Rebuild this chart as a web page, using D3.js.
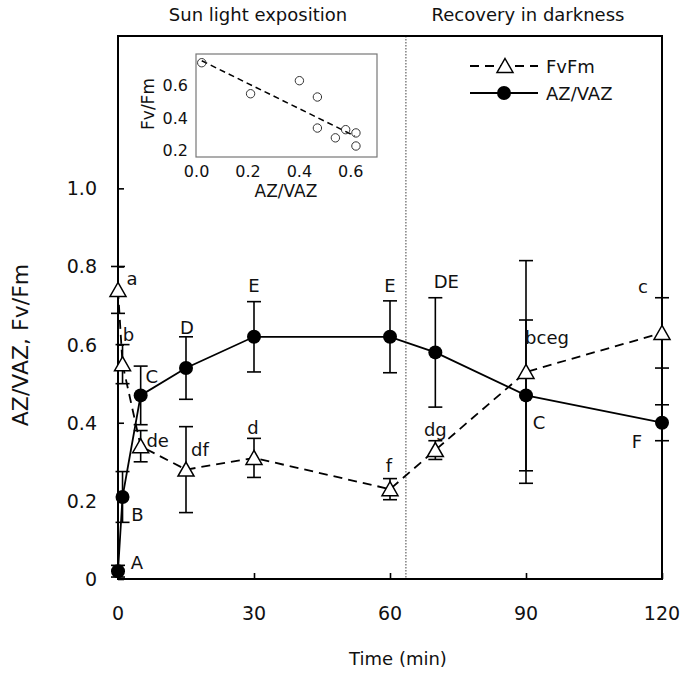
<!DOCTYPE html>
<html><head><meta charset="utf-8">
<script src="https://cdn.jsdelivr.net/npm/d3@7"></script>
<style>body{margin:0;background:#fff}svg{display:block}</style>
</head><body><svg id="c" width="685" height="674"></svg>
<script>
// ---------------- data ----------------
const times = [0, 1, 5, 15, 30, 60, 70, 90, 120];
const fvfm = [0.74, 0.55, 0.34, 0.28, 0.31, 0.23, 0.33, 0.53, 0.63];
const fvfmErr = [0.06, 0.05, 0.04, 0.11, 0.05, 0.027, 0.024, 0.285, 0.09];
const fvfmLetters = ["a", "b", "de", "df", "d", "f", "dg", "bceg", "c"];
const azvaz = [0.02, 0.21, 0.47, 0.54, 0.62, 0.62, 0.58, 0.47, 0.40];
const azvazErr = [0.015, 0.065, 0.075, 0.08, 0.09, 0.092, 0.14, 0.193, 0.046];
const azvazLetters = ["A", "B", "C", "D", "E", "E", "DE", "C", "F"];
const xTicks = [0, 30, 60, 90, 120];
const yTicks = [0, 0.2, 0.4, 0.6, 0.8, 1.0];
const yTickLabels = ["0", "0.2", "0.4", "0.6", "0.8", "1.0"];
const phaseBoundary = 63.5;
const phaseTitles = ["Sun light exposition", "Recovery in darkness"];
const seriesNames = ["FvFm", "AZ/VAZ"];
// inset
const insetAZ = [0.02, 0.21, 0.40, 0.47, 0.47, 0.54, 0.58, 0.62, 0.62];
const insetFv = [0.74, 0.55, 0.63, 0.53, 0.34, 0.28, 0.33, 0.31, 0.23];
const insetTrendAZ = [0.02, 0.616];
const insetTrendFv = [0.752, 0.291];
const insetXTicks = [0, 0.2, 0.4, 0.6];
const insetXTickLabels = ["0.0", "0.2", "0.4", "0.6"];
const insetYTicks = [0.2, 0.4, 0.6];
const insetYTickLabels = ["0.2", "0.4", "0.6"];

// ---------------- layout ----------------
const FONT = "'DejaVu Sans', Verdana, sans-serif";
const L = 118, R = 662, T = 36, B = 579;
const fvOff = [[14,-11],[6,-30],[17,-6],[14,-20],[-1,-30],[-1,-24],[0,-21],[21,-34],[-19,-46]];
const azOff = [[19,-9],[15,18],[11,-19],[1,-41],[0,-51],[0,-51],[11,-71],[13,27],[-25,19]];

const svg = d3.select("#c");
const x = d3.scaleLinear().domain([0, 120]).range([L, R]);
const y = d3.scaleLinear().domain([0, 1.39]).range([B, T]);

// dotted phase separator
svg.append("line")
  .attr("x1", x(phaseBoundary)).attr("x2", x(phaseBoundary))
  .attr("y1", T).attr("y2", B)
  .attr("stroke", "#888").attr("stroke-width", 1.6).attr("stroke-dasharray", "1.5,1.5");

// axes (ticks inward)
const xAxis = d3.axisTop(x).tickValues(xTicks).tickSize(6).tickFormat("");
svg.append("g").attr("transform", `translate(0,${B})`).call(xAxis)
  .call(g => { g.select(".domain").remove(); g.selectAll("line").attr("stroke", "#000").attr("stroke-width", 1.6); });
const yAxis = d3.axisRight(y).tickValues(yTicks).tickSize(6).tickFormat("");
svg.append("g").attr("transform", `translate(${L},0)`).call(yAxis)
  .call(g => { g.select(".domain").remove(); g.selectAll("line").attr("stroke", "#000").attr("stroke-width", 1.6); });

// tick labels
svg.append("g").selectAll("text").data(xTicks).join("text")
  .attr("x", d => x(d)).attr("y", 613).attr("text-anchor", "middle").attr("dominant-baseline", "central")
  .attr("font-family", FONT).attr("font-size", 19).attr("fill", "#111").text(d => d);
svg.append("g").selectAll("text").data(yTicks).join("text")
  .attr("x", 97).attr("y", d => y(d)).attr("text-anchor", "end").attr("dominant-baseline", "central")
  .attr("font-family", FONT).attr("font-size", 19).attr("fill", "#111").text((d, i) => yTickLabels[i]);

// frame
svg.append("rect").attr("x", L).attr("y", T).attr("width", R - L).attr("height", B - T)
  .attr("fill", "none").attr("stroke", "#000").attr("stroke-width", 2);

// axis titles
svg.append("text").attr("x", 398).attr("y", 658).attr("text-anchor", "middle").attr("dominant-baseline", "central")
  .attr("font-family", FONT).attr("font-size", 18).attr("fill", "#111").text("Time (min)");
svg.append("text").attr("transform", `translate(20,${345}) rotate(-90)`).attr("text-anchor", "middle")
  .attr("dominant-baseline", "central").attr("font-family", FONT).attr("font-size", 22).attr("fill", "#111")
  .text("AZ/VAZ, Fv/Fm");

// phase titles
svg.append("g").selectAll("text").data(phaseTitles).join("text")
  .attr("x", (d, i) => i === 0 ? 258 : 528).attr("y", 14).attr("text-anchor", "middle").attr("dominant-baseline", "central")
  .attr("font-family", FONT).attr("font-size", 18).attr("fill", "#111").text(d => d);

// ---------------- series ----------------
const fvData = times.map((t, i) => ({t, v: fvfm[i], e: fvfmErr[i], lab: fvfmLetters[i], off: fvOff[i]}));
const azData = times.map((t, i) => ({t, v: azvaz[i], e: azvazErr[i], lab: azvazLetters[i], off: azOff[i]}));
const line = d3.line().x(d => x(d.t)).y(d => y(d.v));

function errorBars(data) {
  const g = svg.append("g").attr("stroke", "#000").attr("stroke-width", 1.6);
  data.forEach(d => {
    g.append("line").attr("x1", x(d.t)).attr("x2", x(d.t)).attr("y1", y(d.v - d.e)).attr("y2", y(d.v + d.e));
    [d.v - d.e, d.v + d.e].forEach(v => g.append("line")
      .attr("x1", x(d.t) - 7).attr("x2", x(d.t) + 7).attr("y1", y(v)).attr("y2", y(v)));
  });
}
errorBars(fvData);
errorBars(azData);

svg.append("path").datum(fvData).attr("d", line).attr("fill", "none").attr("stroke", "#000")
  .attr("stroke-width", 1.8).attr("stroke-dasharray", "9,6");
svg.append("path").datum(azData).attr("d", line).attr("fill", "none").attr("stroke", "#000")
  .attr("stroke-width", 1.8);

const tri = "M0,-7.5L8,6.5L-8,6.5Z";
svg.append("g").selectAll("path").data(fvData).join("path")
  .attr("d", tri).attr("transform", d => `translate(${x(d.t)},${y(d.v)})`)
  .attr("fill", "#fff").attr("stroke", "#000").attr("stroke-width", 1.5);
svg.append("g").selectAll("circle").data(azData).join("circle")
  .attr("cx", d => x(d.t)).attr("cy", d => y(d.v)).attr("r", 7).attr("fill", "#000");

// letters
[fvData, azData].forEach(data => {
  svg.append("g").selectAll("text").data(data).join("text")
    .attr("x", d => x(d.t) + d.off[0]).attr("y", d => y(d.v) + d.off[1])
    .attr("text-anchor", "middle").attr("dominant-baseline", "central")
    .attr("font-family", FONT).attr("font-size", 18).attr("fill", "#111").text(d => d.lab);
});

// legend
const lg = svg.append("g");
lg.append("line").attr("x1", 470).attr("x2", 538).attr("y1", 66).attr("y2", 66)
  .attr("stroke", "#000").attr("stroke-width", 1.8).attr("stroke-dasharray", "9,6");
lg.append("path").attr("d", tri).attr("transform", "translate(505,66)").attr("fill", "#fff").attr("stroke", "#000").attr("stroke-width", 1.5);
lg.append("line").attr("x1", 470).attr("x2", 538).attr("y1", 93).attr("y2", 93)
  .attr("stroke", "#000").attr("stroke-width", 1.8);
lg.append("circle").attr("cx", 504).attr("cy", 93).attr("r", 7).attr("fill", "#000");
lg.selectAll("text.l").data(seriesNames).join("text").attr("class", "l")
  .attr("x", 546).attr("y", (d, i) => i === 0 ? 66 : 93).attr("dominant-baseline", "central")
  .attr("font-family", FONT).attr("font-size", 18).attr("fill", "#111").text(d => d);

// ---------------- inset ----------------
const IL = 196, IR = 377, IT = 54, IB = 157;
const xi = d3.scaleLinear().domain([0, 0.6]).range([196.6, 196.6 + 0.6 * 257]);
const yi = d3.scaleLinear().domain([0.2, 0.8]).range([150.9, 150.9 - 0.6 * 163.3]);
const ig = svg.append("g");
ig.append("rect").attr("x", IL).attr("y", IT).attr("width", IR - IL).attr("height", IB - IT)
  .attr("fill", "#fff").attr("stroke", "#777").attr("stroke-width", 1.2);
ig.append("line").attr("x1", xi(insetTrendAZ[0])).attr("y1", yi(insetTrendFv[0]))
  .attr("x2", xi(insetTrendAZ[1])).attr("y2", yi(insetTrendFv[1]))
  .attr("stroke", "#000").attr("stroke-width", 1.5).attr("stroke-dasharray", "6,4");
ig.selectAll("circle").data(insetAZ.map((a, i) => [a, insetFv[i]])).join("circle")
  .attr("cx", d => xi(d[0])).attr("cy", d => yi(d[1])).attr("r", 4.2)
  .attr("fill", "none").attr("stroke", "#333").attr("stroke-width", 1);
ig.selectAll("text.xt").data(insetXTicks).join("text").attr("class", "xt")
  .attr("x", d => xi(d)).attr("y", 171).attr("text-anchor", "middle").attr("dominant-baseline", "central")
  .attr("font-family", FONT).attr("font-size", 16).attr("fill", "#111").text((d, i) => insetXTickLabels[i]);
ig.selectAll("text.yt").data(insetYTicks).join("text").attr("class", "yt")
  .attr("x", 188).attr("y", d => yi(d)).attr("text-anchor", "end").attr("dominant-baseline", "central")
  .attr("font-family", FONT).attr("font-size", 16).attr("fill", "#111").text((d, i) => insetYTickLabels[i]);
ig.append("text").attr("x", 286).attr("y", 191).attr("text-anchor", "middle").attr("dominant-baseline", "central")
  .attr("font-family", FONT).attr("font-size", 17).attr("fill", "#111").text("AZ/VAZ");
ig.append("text").attr("transform", "translate(148,104) rotate(-90)").attr("text-anchor", "middle")
  .attr("dominant-baseline", "central").attr("font-family", FONT).attr("font-size", 17).attr("fill", "#111").text("Fv/Fm");
</script></body></html>
